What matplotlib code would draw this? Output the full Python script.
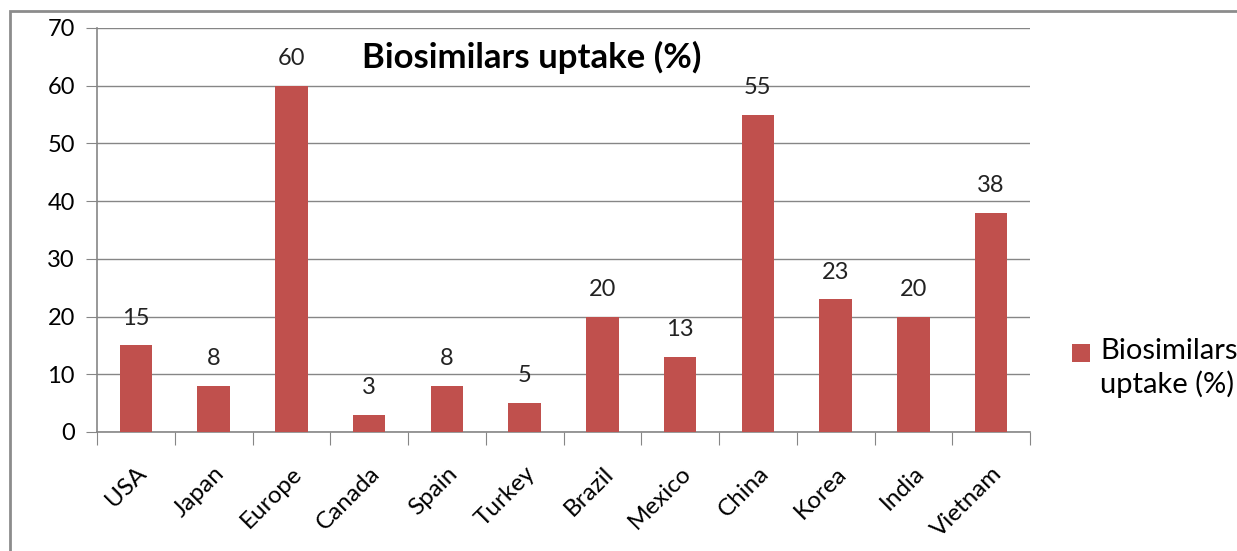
import matplotlib.pyplot as plt
from matplotlib.patches import Rectangle

plt.rcParams['font.family'] = ['Lato', 'DejaVu Sans']

countries = ['USA', 'Japan', 'Europe', 'Canada', 'Spain', 'Turkey',
             'Brazil', 'Mexico', 'China', 'Korea', 'India', 'Vietnam']
uptake = [15, 8, 60, 3, 8, 5, 20, 13, 55, 23, 20, 38]
series_name = 'Biosimilars\nuptake (%)'
title = 'Biosimilars uptake (%)'

bar_color = '#C0504D'
grid_color = '#868686'

fig = plt.figure(figsize=(12.37, 5.51), dpi=100)
# chart border
fig.patches.append(Rectangle((10 / 1237, -0.1), 1.2, (551 - 11) / 551 + 0.1,
                             transform=fig.transFigure, fill=False,
                             edgecolor='#8c8c8c', linewidth=2, zorder=0))

ax = fig.add_axes([97 / 1237, 119 / 551, 933 / 1237, 404 / 551])
x = range(len(countries))
bars = ax.bar(x, uptake, width=0.42, color=bar_color, label=series_name, zorder=3)
ax.bar_label(bars, padding=12, fontsize=17, color='#222222')

ax.set_xlim(-0.5, len(countries) - 0.5)
ax.set_ylim(0, 70)
ax.set_yticks(range(0, 71, 10))
ax.yaxis.grid(True, color=grid_color, linewidth=1)
ax.set_axisbelow(True)

ax.set_xticks([i - 0.5 for i in range(len(countries) + 1)], minor=False)
ax.set_xticklabels([])
ax.set_xticks(list(x), minor=True)
ax.set_xticklabels(countries, minor=True, rotation=45, ha='right',
                   rotation_mode='anchor', fontsize=17.5)
ax.tick_params(axis='x', which='minor', length=0, pad=22)
ax.tick_params(axis='x', which='major', length=9, color=grid_color)
ax.tick_params(axis='y', length=8, color=grid_color, labelsize=17, pad=8)

for s in ['top', 'right']:
    ax.spines[s].set_visible(False)
for s in ['left', 'bottom']:
    ax.spines[s].set_color(grid_color)
    ax.spines[s].set_linewidth(1.2)

fig.text(532 / 1237, (551 - 57) / 551, title, fontsize=25, fontweight='bold',
         ha='center', va='center')

leg = fig.legend(loc='center left', bbox_to_anchor=(1046 / 1237, (551 - 368) / 551),
                 frameon=False, fontsize=21, handlelength=0.6, handleheight=0.6,
                 handletextpad=0.35)
for t in leg.get_texts():
    t.set_linespacing(1.3)
h = leg.legend_handles[0]
h.set_y(h.get_y() + 11)

fig.savefig('out.png', dpi=100)
